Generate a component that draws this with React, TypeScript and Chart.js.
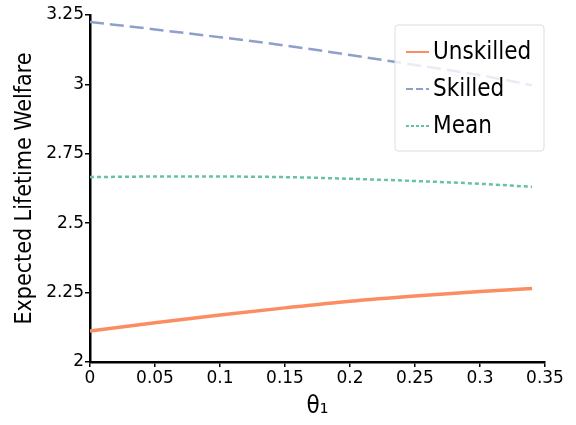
import React, { useEffect, useRef } from "react";
import { Chart, registerables } from "chart.js";

Chart.register(...registerables);

const thetas = [0, 0.05, 0.1, 0.15, 0.2, 0.25, 0.3, 0.34];
const unskilled = [2.112, 2.141, 2.169, 2.195, 2.219, 2.238, 2.254, 2.265];
const skilled = [3.225, 3.198, 3.17, 3.14, 3.106, 3.07, 3.033, 2.997];
const mean = [2.666, 2.668, 2.668, 2.666, 2.66, 2.652, 2.642, 2.631];
const seriesLabels = ["Unskilled", "Skilled", "Mean"];
const seriesColors = ["#fc8d62", "#8da0cb", "#66c2a5"];
const xTickLabels = ["0", "0.05", "0.1", "0.15", "0.2", "0.25", "0.3", "0.35"];
const yTickLabels = ["2", "2.25", "2.5", "2.75", "3", "3.25"];

const LEGEND_FONT = '24px "DejaVu Sans Condensed", "Liberation Sans", sans-serif';
const TITLE_FONT_FAMILY = '"DejaVu Sans Condensed", "Liberation Sans", sans-serif';
const TICK_FONT_FAMILY = '"DejaVu Sans", Verdana, sans-serif';

const legendSamples = [
  { dash: [] as number[], width: 2 },
  { dash: [7, 3], width: 2 },
  { dash: [3, 2], width: 2 },
];

const insideLegend = {
  id: "insideLegend",
  afterDatasetsDraw(chart: any) {
    const { ctx, chartArea } = chart;
    const x0 = chartArea.right - 150;
    const y0 = chartArea.top + 10;
    const w = 149;
    const h = 126;
    ctx.save();
    ctx.beginPath();
    const r = 3;
    ctx.moveTo(x0 + r, y0);
    ctx.lineTo(x0 + w - r, y0);
    ctx.arcTo(x0 + w, y0, x0 + w, y0 + r, r);
    ctx.lineTo(x0 + w, y0 + h - r);
    ctx.arcTo(x0 + w, y0 + h, x0 + w - r, y0 + h, r);
    ctx.lineTo(x0 + r, y0 + h);
    ctx.arcTo(x0, y0 + h, x0, y0 + h - r, r);
    ctx.lineTo(x0, y0 + r);
    ctx.arcTo(x0, y0, x0 + r, y0, r);
    ctx.closePath();
    ctx.fillStyle = "rgba(255,255,255,0.8)";
    ctx.fill();
    ctx.strokeStyle = "#dddddd";
    ctx.lineWidth = 1;
    ctx.stroke();
    chart.data.datasets.forEach((ds: any, i: number) => {
      const cy = y0 + 27 + i * 37;
      ctx.beginPath();
      ctx.setLineDash(legendSamples[i].dash);
      ctx.lineWidth = legendSamples[i].width;
      ctx.strokeStyle = ds.borderColor;
      ctx.moveTo(x0 + 11, cy);
      ctx.lineTo(x0 + 34, cy);
      ctx.stroke();
      ctx.setLineDash([]);
      ctx.fillStyle = "#000";
      ctx.font = LEGEND_FONT;
      ctx.textBaseline = "middle";
      ctx.textAlign = "left";
      ctx.fillText(ds.label, x0 + 38, cy + 1);
    });
    ctx.restore();
  },
};

export default function App() {
  const ref = useRef<HTMLCanvasElement | null>(null);
  useEffect(() => {
    document.body.style.margin = "0";
    const toPts = (arr: number[]) => thetas.map((t, i) => ({ x: t, y: arr[i] }));
    const chart = new Chart(ref.current as HTMLCanvasElement, {
      type: "line",
      data: {
        datasets: [
          {
            label: seriesLabels[0],
            data: toPts(unskilled),
            borderColor: seriesColors[0],
            borderWidth: 3.5,
            pointRadius: 0,
            cubicInterpolationMode: "monotone",
          },
          {
            label: seriesLabels[1],
            data: toPts(skilled),
            borderColor: seriesColors[1],
            borderWidth: 2.5,
            borderDash: [14, 6],
            pointRadius: 0,
            cubicInterpolationMode: "monotone",
          },
          {
            label: seriesLabels[2],
            data: toPts(mean),
            borderColor: seriesColors[2],
            borderWidth: 2.5,
            borderDash: [4, 3],
            pointRadius: 0,
            cubicInterpolationMode: "monotone",
          },
        ],
      },
      options: {
        responsive: false,
        animation: false,
        layout: { padding: { left: 0, right: 31, top: 15, bottom: 0 } },
        plugins: { legend: { display: false }, tooltip: { enabled: false } },
        scales: {
          x: {
            type: "linear",
            min: 0,
            max: 0.35,
            ticks: {
              stepSize: 0.05,
              padding: 1,
              color: "#000",
              font: { family: TICK_FONT_FAMILY, size: 17 },
              maxRotation: 0,
              callback: (_v: any, i: number) => xTickLabels[i],
            },
            grid: { drawOnChartArea: false, color: "#000", tickLength: 5, lineWidth: 1.5 },
            border: { color: "#000", width: 2.5 },
            title: {
              display: true,
              text: "θ₁",
              color: "#000",
              font: { family: TITLE_FONT_FAMILY, size: 24 },
              padding: { top: 0, bottom: 4 },
            },
            afterFit: (s: any) => {
              s.height = 63;
            },
          },
          y: {
            type: "linear",
            min: 2,
            max: 3.25,
            ticks: {
              stepSize: 0.25,
              padding: 1,
              color: "#000",
              font: { family: TICK_FONT_FAMILY, size: 17 },
              callback: (_v: any, i: number) => yTickLabels[i],
            },
            grid: { drawOnChartArea: false, color: "#000", tickLength: 5, lineWidth: 1.5 },
            border: { color: "#000", width: 2.5 },
            title: {
              display: true,
              text: "Expected Lifetime Welfare",
              color: "#000",
              font: { family: TITLE_FONT_FAMILY, size: 23 },
              padding: { top: 11, bottom: 0 },
            },
            afterFit: (s: any) => {
              s.width = 90;
            },
          },
        },
      },
      plugins: [insideLegend],
    });
    return () => chart.destroy();
  }, []);
  return (
    <div style={{ width: 576, height: 425 }}>
      <canvas ref={ref} width={576} height={425} />
    </div>
  );
}
